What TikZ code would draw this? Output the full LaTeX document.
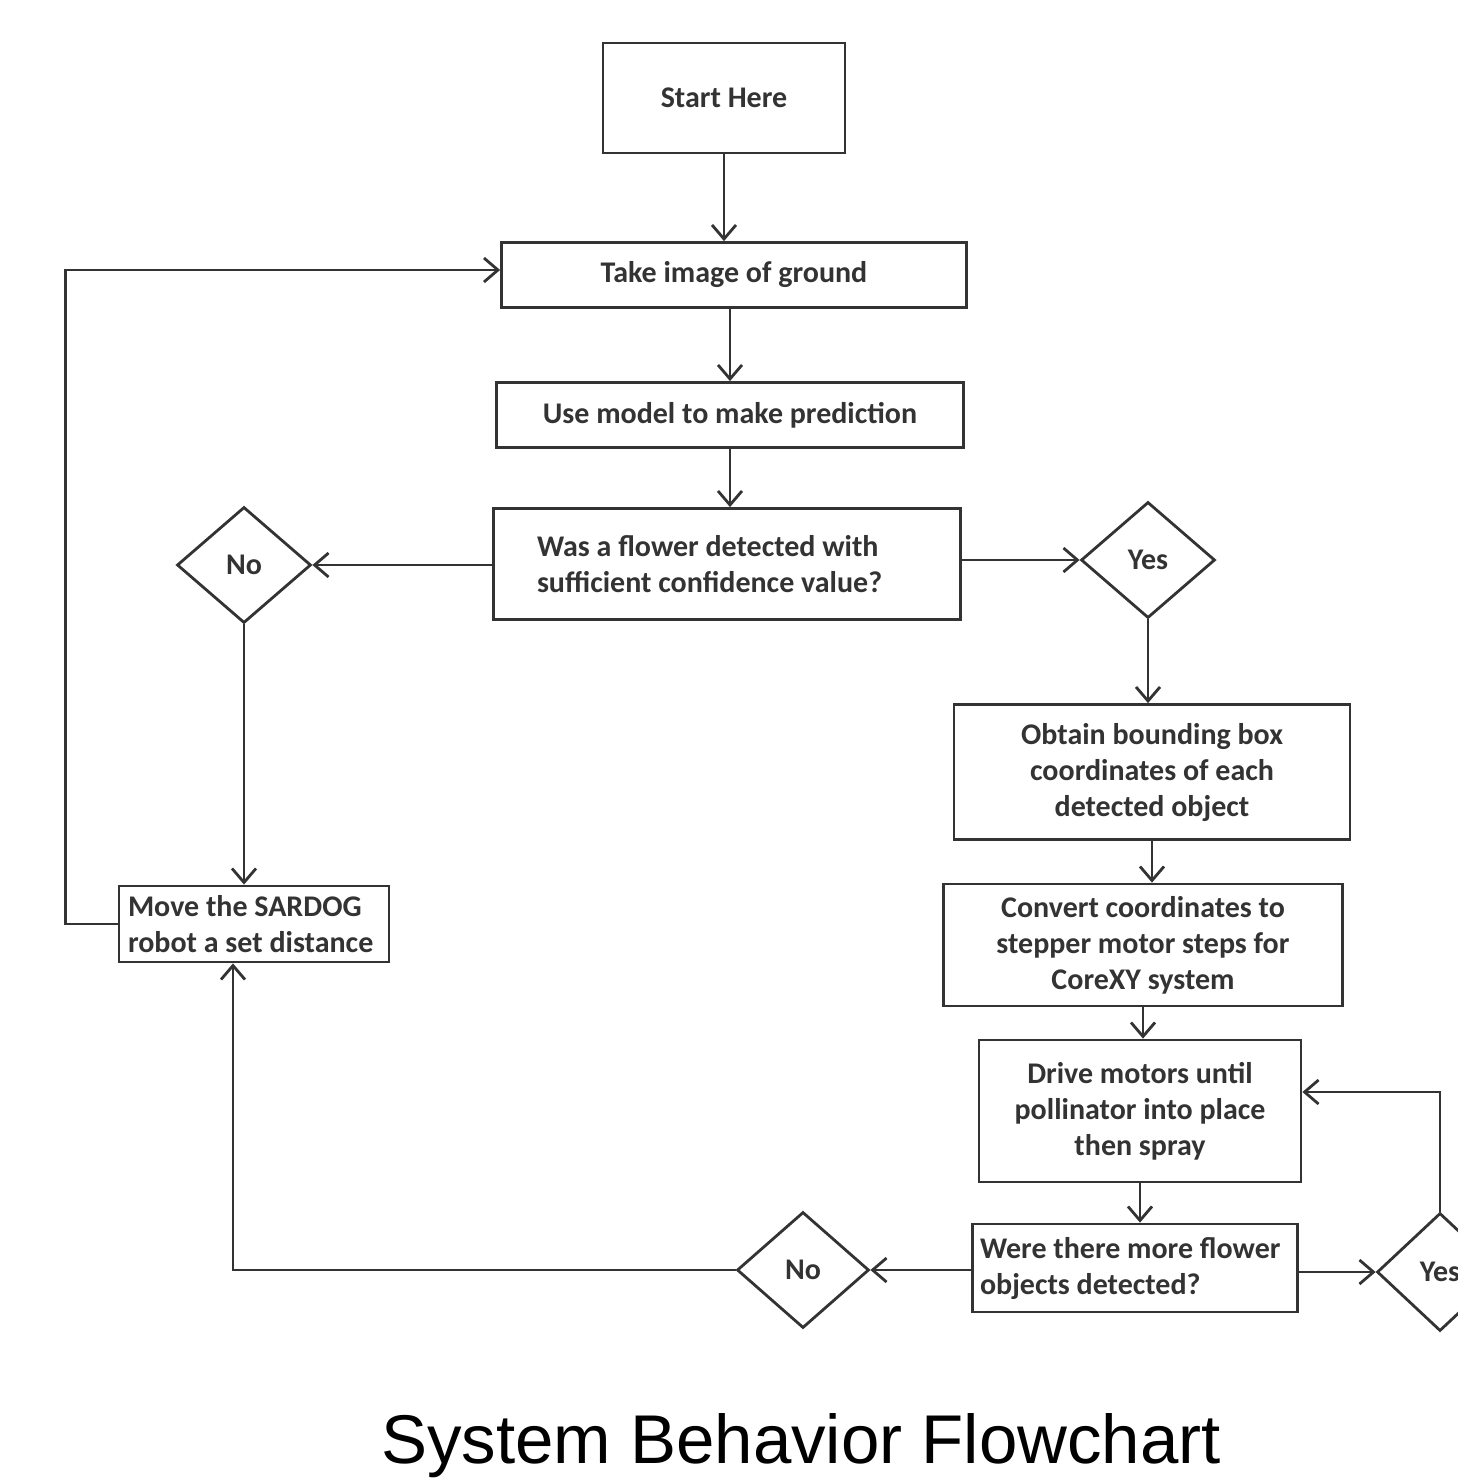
\documentclass[tikz,border=0pt]{standalone}
\usepackage{fontspec}
\setmainfont{Carlito}
\newfontfamily\titlefont{Liberation Sans}
\usetikzlibrary{arrows.meta,shapes.geometric}

\begin{document}
\begin{tikzpicture}[x=1pt,y=-1pt,line width=2.8pt,black!80,
  >={Straight Barb[length=14pt,width=24pt]},
  box/.style={draw,rectangle,inner sep=0pt,align=center,
    font=\bfseries\fontsize{30}{36}\selectfont},
  leftbox/.style={box,align=flush left},
  choice/.style={draw,diamond,inner sep=0pt,minimum width=134pt,minimum height=116pt,
    font=\bfseries\fontsize{30}{36}\selectfont}]
\useasboundingbox (0,0) rectangle (1458,1483);
\clip (0,0) rectangle (1458,1483);
\node[box,minimum width=242pt,minimum height=110pt] (v0) at (724,98) {Start Here};
\node[box,minimum width=465pt,minimum height=65pt] (v1) at (734,275) {Take image of ground};
\node[box,minimum width=467pt,minimum height=65pt] (v2) at (730,415) {Use model to make prediction};
\node[choice] (v3) at (244,565) {No};
\node[leftbox,text width=380pt,minimum width=467pt,minimum height=111pt] (v4) at (727,564) {Was a flower detected with\\sufficient confidence value?};
\node[choice] (v5) at (1148,560) {Yes};
\node[box,minimum width=396pt,minimum height=135pt] (v6) at (1152,772) {Obtain bounding box\\coordinates of each\\detected object};
\node[box,minimum width=399pt,minimum height=122pt] (v7) at (1143,945) {Convert coordinates to\\stepper motor steps for\\CoreXY system};
\node[box,minimum width=322pt,minimum height=142pt] (v8) at (1140,1111) {Drive motors until\\pollinator into place\\then spray};
\node[leftbox,text width=310pt,minimum width=325pt,minimum height=88pt] (v9) at (1135,1268) {Were there more flower\\objects detected?};
\node[leftbox,text width=252pt,minimum width=270pt,minimum height=76pt] (v10) at (254,924) {Move the SARDOG\\robot a set distance};
\node[choice,minimum width=132pt] (v11) at (803,1270) {No};
\node[choice,minimum width=126pt,minimum height=118pt] (v12) at (1440,1272) {Yes};
\node[font=\titlefont\fontsize{69}{80}\selectfont,black] (v13) at (801,1446) {System Behavior Flowchart};
\draw [->] (v0.south) -- (v0.south |- v1.north);
\draw [->] (v1.south -| v2) -- (v2.north);
\draw [->] (v2.south) -- (v2.south |- v4.north);
\draw [->] (v4.west |- v3) -- (v3.east);
\draw [->] (v4.east |- v5) -- (v5.west);
\draw [->] (v5.south) -- (v5.south |- v6.north);
\draw [->] (v6.south) -- (v6.south |- v7.north);
\draw [->] (v7.south) -- (v7.south |- v8.north);
\draw [->] (v8.south) -- (v8.south |- v9.north);
\draw [->] (v9.west |- v11) -- (v11.east);
\draw [->] (v9.east |- v12) -- (v12.west);
\draw [->] (v12.north) |- ([yshift=19pt]v8.east);
\draw [->] (v3.south) -- (v3.south |- v10.north);
\draw [->] (v11.west) -| ([xshift=-21pt]v10.south);
\draw [->] (v10.west) -- ++(-52,0) |- ([yshift=5pt]v1.west);
\end{tikzpicture}
\end{document}
